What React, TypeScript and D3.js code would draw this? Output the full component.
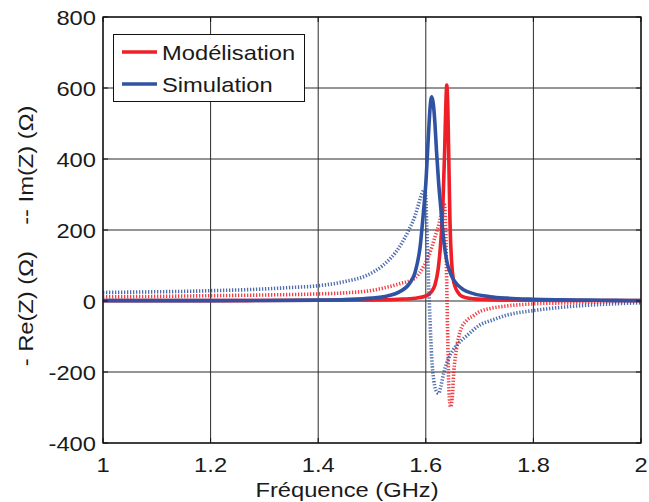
import React from 'react';
import * as d3 from 'd3';

// Modélisation (red) : -Re(Z)
const modReF = [1.0, 1.2, 1.4, 1.5, 1.55, 1.58, 1.6, 1.61, 1.617, 1.623, 1.628, 1.632, 1.635, 1.637, 1.639, 1.641, 1.643, 1.645, 1.648, 1.651, 1.655, 1.66, 1.665, 1.675, 1.69, 1.72, 1.8, 1.9, 2.0];
const modReV = [1, 1, 2, 3, 5, 8, 14, 25, 45, 90, 170, 280, 420, 540, 608, 540, 380, 220, 110, 62, 38, 24, 15, 9, 6, 4, 2, 1.5, 1];

// Modélisation (red, dotted) : -Im(Z)
const modImF = [1.0, 1.1, 1.2, 1.3, 1.4, 1.45, 1.5, 1.52, 1.55, 1.58, 1.595, 1.605, 1.617, 1.625, 1.63, 1.633, 1.635, 1.637, 1.639, 1.641, 1.643, 1.646, 1.649, 1.652, 1.657, 1.664, 1.676, 1.688, 1.7, 1.72, 1.75, 1.8, 1.87, 1.95, 2.0];
const modImV = [12, 13, 15, 17, 20, 23, 30, 36, 48, 65, 95, 125, 180, 220, 255, 275, 270, 200, 40, -120, -250, -298, -275, -200, -135, -85, -55, -42, -30, -21, -14, -8, -5, -2, -1];

// Simulation (blue) : -Re(Z)
const simReF = [1.0, 1.1, 1.2, 1.3, 1.4, 1.45, 1.5, 1.53, 1.55, 1.57, 1.58, 1.59, 1.595, 1.6, 1.605, 1.608, 1.611, 1.614, 1.617, 1.62, 1.624, 1.628, 1.632, 1.636, 1.64, 1.645, 1.65, 1.66, 1.67, 1.69, 1.72, 1.75, 1.8, 1.85, 1.9, 1.95, 2.0];
const simReV = [1, 1, 1, 1.5, 2.5, 4, 8, 15, 25, 50, 80, 160, 240, 330, 470, 545, 575, 555, 500, 420, 330, 260, 190, 140, 105, 82, 64, 44, 32, 20, 12, 8, 5, 3.5, 2.5, 1.8, 1.2];

// Simulation (blue, dotted) : -Im(Z)
const simImF = [1.0, 1.05, 1.1, 1.15, 1.2, 1.25, 1.3, 1.35, 1.4, 1.45, 1.49, 1.52, 1.55, 1.57, 1.58, 1.585, 1.59, 1.595, 1.598, 1.6, 1.602, 1.605, 1.608, 1.611, 1.615, 1.62, 1.624, 1.628, 1.633, 1.64, 1.65, 1.66, 1.676, 1.7, 1.725, 1.75, 1.8, 1.85, 1.9, 1.95, 2.0];
const simImV = [24, 25, 26, 27, 29, 31, 34, 38, 43, 55, 72, 100, 150, 205, 240, 265, 290, 310, 314, 290, 200, 60, -60, -160, -225, -255, -260, -240, -205, -170, -140, -120, -98, -68, -53, -40, -27, -18, -12, -8, -5];

const xTicks = [1, 1.2, 1.4, 1.6, 1.8, 2];
const xTickLabels = ['1', '1.2', '1.4', '1.6', '1.8', '2'];
const yTicks = [-400, -200, 0, 200, 400, 600, 800];
const yTickLabels = ['-400', '-200', '0', '200', '400', '600', '800'];
const legendNames = ['Modélisation', 'Simulation'];
const xTitle = 'Fréquence (GHz)';
const yTitle = '- Re(Z) (\u03A9)\u00A0\u00A0\u00A0\u00A0-- Im(Z) (\u03A9)';

const RED = '#ee1f26';
const BLUE = '#2f52a2';
const FONT = '"Liberation Sans", Arial, Helvetica, sans-serif';
const FS = 21;
const SX = 1.13;

const W = 649;
const H = 502;
const L = 103, R = 641, T = 17, B = 443;

const x = d3.scaleLinear().domain([1, 2]).range([L, R]);
const y = d3.scaleLinear().domain([-400, 800]).range([B, T]);

const zip = (f: number[], v: number[]) => f.map((fi, i) => [fi, v[i]] as [number, number]);
const line = d3
  .line<[number, number]>()
  .x((d) => x(d[0]))
  .y((d) => y(d[1]))
  .curve(d3.curveMonotoneX);

function T_(props: { x: number; y: number; anchor?: string; rotate?: number; children: React.ReactNode; dy?: string }) {
  const { x: tx, y: ty, anchor = 'start', rotate = 0, children, dy } = props;
  return (
    <text
      transform={`translate(${tx},${ty}) rotate(${rotate}) scale(${SX},1)`}
      textAnchor={anchor as any}
      dy={dy}
      fontFamily={FONT}
      fontSize={FS}
      fill="#1a1a1a"
    >
      {children}
    </text>
  );
}

export default function App() {
  const series = [
    { d: zip(modReF, modReV), color: RED, dotted: false },
    { d: zip(modImF, modImV), color: RED, dotted: true },
    { d: zip(simImF, simImV), color: BLUE, dotted: true },
    { d: zip(simReF, simReV), color: BLUE, dotted: false },
  ];
  return (
    <svg width={W} height={H} style={{ position: 'absolute', left: 0, top: 0, background: '#fff' }}>
      <defs>
        <clipPath id="plot">
          <rect x={L} y={T} width={R - L} height={B - T} />
        </clipPath>
      </defs>
      <rect x={0} y={0} width={W} height={H} fill="#fff" />
      {/* grid */}
      {xTicks.map((t) => (
        <line key={'gx' + t} x1={x(t)} x2={x(t)} y1={T} y2={B} stroke="#2a2a2a" strokeWidth={1} />
      ))}
      {yTicks.map((t) => (
        <line key={'gy' + t} x1={L} x2={R} y1={y(t)} y2={y(t)} stroke="#2a2a2a" strokeWidth={1} />
      ))}
      {/* curves */}
      <g clipPath="url(#plot)">
        {series.map((s, i) => (
          <path
            key={i}
            d={line(s.d) || ''}
            fill="none"
            stroke={s.color}
            strokeWidth={s.dotted ? 3.6 : 3.6}
            strokeOpacity={s.dotted ? 0.85 : 1}
            strokeDasharray={s.dotted ? '1.3,1.7' : undefined}
            strokeLinejoin="round"
          />
        ))}
      </g>
      {/* box */}
      <rect x={L} y={T} width={R - L} height={B - T} fill="none" stroke="#111" strokeWidth={1.3} />
      {xTicks.map((t) => (
        <g key={'tx' + t}>
          <line x1={x(t)} x2={x(t)} y1={B} y2={B - 5} stroke="#111" />
          <line x1={x(t)} x2={x(t)} y1={T} y2={T + 5} stroke="#111" />
        </g>
      ))}
      {yTicks.map((t) => (
        <g key={'ty' + t}>
          <line x1={L} x2={L + 5} y1={y(t)} y2={y(t)} stroke="#111" />
          <line x1={R} x2={R - 5} y1={y(t)} y2={y(t)} stroke="#111" />
        </g>
      ))}
      {/* tick labels */}
      {yTicks.map((t, i) => (
        <T_ key={'ly' + t} x={96} y={y(t)} anchor="end" dy="0.36em">
          {yTickLabels[i]}
        </T_>
      ))}
      {xTicks.map((t, i) => (
        <T_ key={'lx' + t} x={x(t)} y={472} anchor="middle">
          {xTickLabels[i]}
        </T_>
      ))}
      {/* titles */}
      <T_ x={347} y={497} anchor="middle">
        {xTitle}
      </T_>
      <T_ x={33} y={236} anchor="middle" rotate={-90}>
        {yTitle}
      </T_>
      {/* legend */}
      <rect x={113.5} y={34.5} width={191} height={67} fill="#fff" stroke="#111" strokeWidth={1} />
      {legendNames.map((name, i) => {
        const ly = 52 + i * 32;
        return (
          <g key={name}>
            <line x1={122} x2={157} y1={ly} y2={ly} stroke={i === 0 ? RED : BLUE} strokeWidth={3.4} />
            <T_ x={162} y={ly} dy="0.36em">
              {name}
            </T_>
          </g>
        );
      })}
    </svg>
  );
}
